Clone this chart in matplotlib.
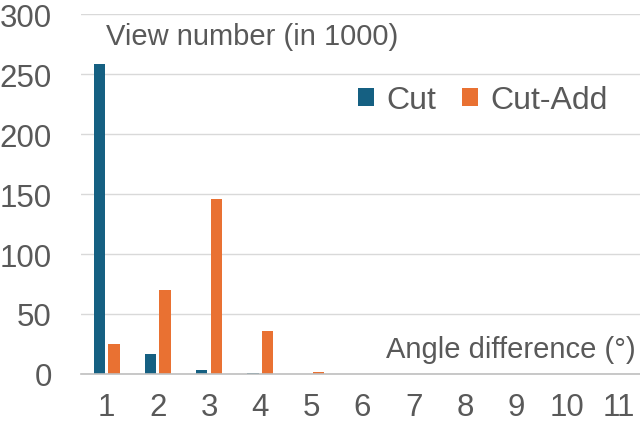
import matplotlib
matplotlib.use("Agg")
import matplotlib.pyplot as plt
import numpy as np

categories = ["1", "2", "3", "4", "5", "6", "7", "8", "9", "10", "11"]
cut = [258, 17, 3, 1, 0, 0, 0, 0, 0, 0, 0]
cut_add = [25, 70, 146, 36, 1.5, 0, 0, 0, 0, 0, 0]
y_ticks = [0, 50, 100, 150, 200, 250, 300]

TEXT = "#595959"
plt.rcParams["font.family"] = ["Liberation Sans", "DejaVu Sans"]

fig = plt.figure(figsize=(6.4, 4.27), dpi=100)
ax = fig.add_axes([0.1266, 0.1218, 0.8797, 0.843])

x = np.arange(1, len(categories) + 1)
w = 0.22
ax.bar(x - 0.142, cut, width=w, color="#156082", label="Cut", zorder=3)
ax.bar(x + 0.142, cut_add, width=w, color="#E97132", label="Cut-Add", zorder=3)

ax.set_xlim(0.5, 11.5)
ax.set_ylim(0, 300)
ax.set_xticks(x, categories)
ax.set_yticks(y_ticks)
ax.tick_params(axis="both", length=0, labelsize=22.5, colors=TEXT)
ax.tick_params(axis="x", pad=13)
ax.tick_params(axis="y", pad=21)
ax.grid(axis="y", color="#d9d9d9", linewidth=1, zorder=0)
for side in ["top", "right", "left"]:
    ax.spines[side].set_visible(False)
ax.spines["bottom"].set_color("#bfbfbf")
ax.spines["bottom"].set_linewidth(1.2)
ax.spines["bottom"].set_zorder(4)

ax.text(0.99, 282, "View number (in 1000)", fontsize=21, color=TEXT,
        ha="left", va="center")
ax.text(11.33, 21, "Angle difference (°)", fontsize=21, color=TEXT,
        ha="right", va="center")

ax.legend(loc="center", bbox_to_anchor=(8.35, 228), bbox_transform=ax.transData,
          ncol=2, frameon=False, fontsize=23, labelcolor=TEXT,
          handlelength=0.5, handleheight=0.5, handletextpad=0.4,
          columnspacing=0.8)

fig.savefig("out.png", dpi=100)
